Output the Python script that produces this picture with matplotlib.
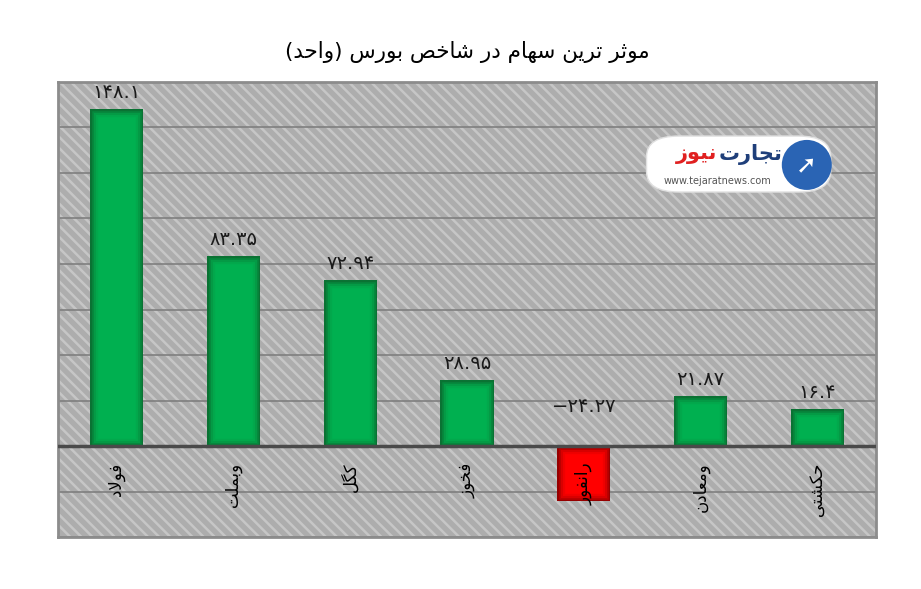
import matplotlib
matplotlib.use('Agg')
import matplotlib.pyplot as plt
from matplotlib.patches import Rectangle, FancyBboxPatch, Ellipse

# data
names = ['فولاد', 'وبملت', 'کگل', 'فخوز', 'رانفور', 'ومعادن', 'حکشتی']
values = [148.1, 83.35, 72.94, 28.95, -24.27, 21.87, 16.4]
title = 'موثر ترین سهام در شاخص بورس (واحد)'

# matplotlib has no arabic shaping, so do it by hand with presentation forms
# letter: (isolated, final, initial, medial); None = does not join to the next letter
FORMS = {
    'ا': (0xFE8D, 0xFE8E, None, None),
    'ب': (0xFE8F, 0xFE90, 0xFE91, 0xFE92),
    'ت': (0xFE95, 0xFE96, 0xFE97, 0xFE98),
    'ث': (0xFE99, 0xFE9A, 0xFE9B, 0xFE9C),
    'ج': (0xFE9D, 0xFE9E, 0xFE9F, 0xFEA0),
    'ح': (0xFEA1, 0xFEA2, 0xFEA3, 0xFEA4),
    'خ': (0xFEA5, 0xFEA6, 0xFEA7, 0xFEA8),
    'د': (0xFEA9, 0xFEAA, None, None),
    'ر': (0xFEAD, 0xFEAE, None, None),
    'ز': (0xFEAF, 0xFEB0, None, None),
    'س': (0xFEB1, 0xFEB2, 0xFEB3, 0xFEB4),
    'ش': (0xFEB5, 0xFEB6, 0xFEB7, 0xFEB8),
    'ص': (0xFEB9, 0xFEBA, 0xFEBB, 0xFEBC),
    'ع': (0xFEC9, 0xFECA, 0xFECB, 0xFECC),
    'ف': (0xFED1, 0xFED2, 0xFED3, 0xFED4),
    'ل': (0xFEDD, 0xFEDE, 0xFEDF, 0xFEE0),
    'م': (0xFEE1, 0xFEE2, 0xFEE3, 0xFEE4),
    'ن': (0xFEE5, 0xFEE6, 0xFEE7, 0xFEE8),
    'ه': (0xFEE9, 0xFEEA, 0xFEEB, 0xFEEC),
    'و': (0xFEED, 0xFEEE, None, None),
    'ی': (0xFBFC, 0xFBFD, 0xFBFE, 0xFBFF),
    'ک': (0xFB8E, 0xFB8F, 0xFB90, 0xFB91),
    'گ': (0xFB92, 0xFB93, 0xFB94, 0xFB95),
}


def joins_next(c):
    return c in FORMS and FORMS[c][2] is not None


def fa(text):
    out = []
    i = 0
    while i < len(text):
        c = text[i]
        prev = text[i - 1] if i > 0 else ''
        nxt = text[i + 1] if i + 1 < len(text) else ''
        if c not in FORMS:
            out.append({'(': ')', ')': '('}.get(c, c))
            i += 1
            continue
        jp = joins_next(prev)
        if c == 'ل' and nxt == 'ا':
            out.append(chr(0xFEFC if jp else 0xFEFB))
            i += 2
            continue
        jn = joins_next(c) and nxt in FORMS
        f = FORMS[c]
        if jp and jn:
            g = f[3]
        elif jp:
            g = f[1]
        elif jn:
            g = f[2]
        else:
            g = f[0]
        out.append(chr(g))
        i += 1
    return ''.join(out[::-1])


DIGITS = str.maketrans('0123456789-', '۰۱۲۳۴۵۶۷۸۹−')


def fa_num(v):
    return f'{v:g}'.translate(DIGITS)


plt.rcParams['font.family'] = ['DejaVu Sans']
plt.rcParams['hatch.linewidth'] = 1.8

fig = plt.figure(figsize=(9.21, 5.89), dpi=100)
ax = fig.add_axes([0.063, 0.088, 0.888, 0.773])

# striped grey background
ax.add_patch(Rectangle((0, 0), 1, 1, transform=ax.transAxes, facecolor='#adadad',
                       edgecolor='#c6c6c6', hatch='\\\\\\', linewidth=0, zorder=0))

x = range(len(values))
colors = ['#00b050' if v >= 0 else '#ff0000' for v in values]
bars = ax.bar(x, values, width=0.455, color=colors, linewidth=0, zorder=3)

# soft inner shadow: thick-to-thin edges clipped to the bar, darkest at the rim
for b, v in zip(bars, values):
    if v >= 0:
        layers = [(11, '#02a84c'), (8, '#049a45'), (5, '#07883d'), (2.5, '#0a7233')]
    else:
        layers = [(11, '#f00000'), (8, '#d80000'), (5, '#bb0000'), (2.5, '#960000')]
    for lw, col in layers:
        r = Rectangle(b.get_xy(), b.get_width(), b.get_height(), fill=False,
                      edgecolor=col, linewidth=lw, zorder=3.5)
        ax.add_patch(r)
        r.set_clip_path(b)

ax.set_ylim(-40, 160)
ax.set_xlim(-0.5, len(values) - 0.5)
ax.set_yticks(range(-40, 161, 20))
ax.yaxis.grid(True, color='#7f7f7f', linewidth=1.2, zorder=1)
ax.set_axisbelow(True)
ax.axhline(0, color='#4a4a4a', linewidth=2.5, zorder=4)
ax.set_xticks([])
ax.tick_params(left=False, labelleft=False)
for s in ax.spines.values():
    s.set_color('#8c8c8c')
    s.set_linewidth(2)

for i, v in enumerate(values):
    ax.annotate(fa_num(v), (i, max(v, 0)), xytext=(0, 5 if v >= 0 else 22),
                textcoords='offset points', ha='center', va='bottom',
                fontsize=14, color='#1a1a1a', zorder=5)
    ax.annotate(fa(names[i]), (i, 0), xytext=(0, -12), textcoords='offset points',
                ha='center', va='top', rotation=90, fontsize=12, color='black', zorder=5)

fig.text(0.507, 0.912, fa(title), ha='center', va='center', fontsize=15.5,
         color='black')

# watermark logo
fig.patches.append(FancyBboxPatch((0.702, 0.674), 0.2, 0.095,
                                  boxstyle='round,pad=0,rounding_size=0.035',
                                  transform=fig.transFigure, facecolor='white',
                                  edgecolor='#e0e0e0', linewidth=1, zorder=6))
fig.patches.append(Ellipse((0.876, 0.72), 50 / 921, 50 / 589, transform=fig.transFigure,
                           facecolor='#2a64b4', edgecolor='none', zorder=7))
fig.text(0.876, 0.72, '➚', ha='center', va='center', fontsize=18, color='white', zorder=8)
fig.text(0.849, 0.738, fa('تجارت'), ha='right', va='center', fontsize=15,
         fontweight='bold', color='#1f3f7a', zorder=8)
fig.text(0.779, 0.738, fa('نیوز'), ha='right', va='center', fontsize=15,
         fontweight='bold', color='#e02020', zorder=8)
fig.text(0.779, 0.693, 'www.tejaratnews.com', ha='center', va='center', fontsize=7,
         color='#555555', zorder=8)

fig.savefig('out.png', dpi=100, facecolor='white')
